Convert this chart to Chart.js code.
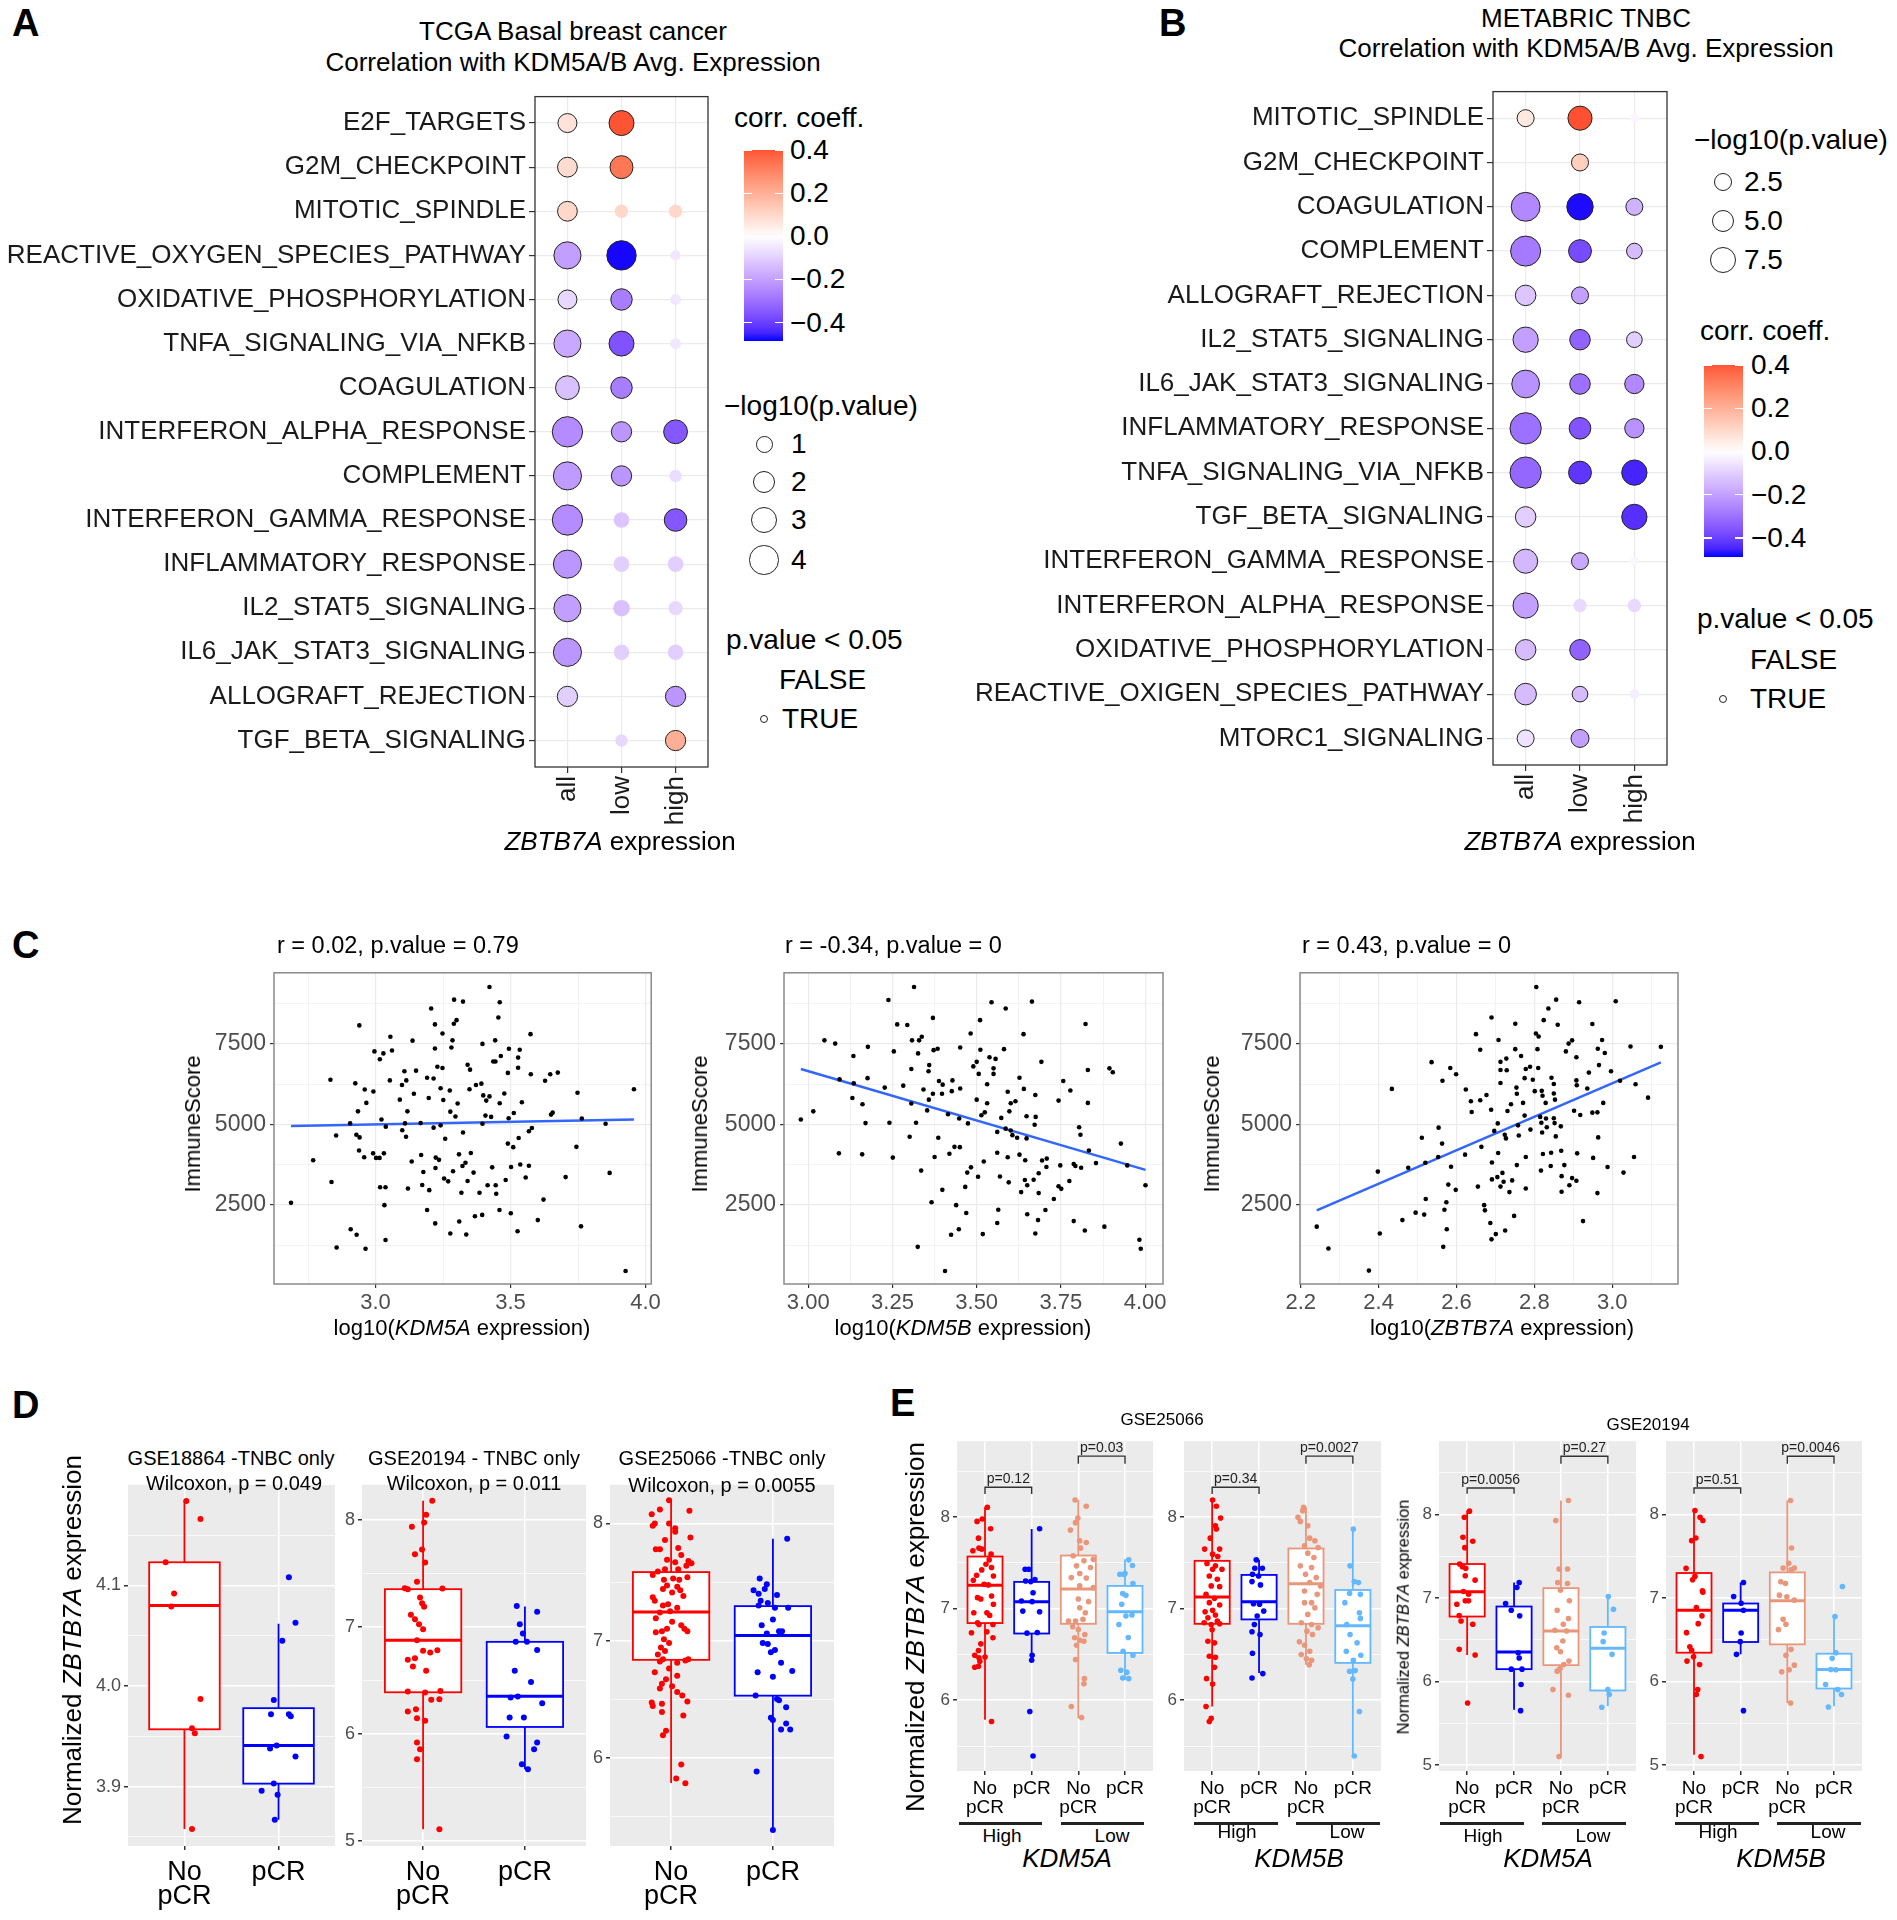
<!DOCTYPE html>
<html><head><meta charset="utf-8">
<script src="https://cdn.jsdelivr.net/npm/chart.js@4.4.1/dist/chart.umd.min.js"></script>
<style>
html,body{margin:0;padding:0;background:#fff;}
body{position:relative;width:1897px;height:1920px;overflow:hidden;font-family:"Liberation Sans",Arial,sans-serif;color:#000;}
canvas{position:absolute;}
.t{position:absolute;white-space:nowrap;line-height:1;}
</style></head><body>
<script>
// ---------- panel A / B : hallmark correlation dot plots ----------
const colsAB = ['all', 'low', 'high'];

const rowsA = ['E2F_TARGETS','G2M_CHECKPOINT','MITOTIC_SPINDLE','REACTIVE_OXYGEN_SPECIES_PATHWAY','OXIDATIVE_PHOSPHORYLATION','TNFA_SIGNALING_VIA_NFKB','COAGULATION','INTERFERON_ALPHA_RESPONSE','COMPLEMENT','INTERFERON_GAMMA_RESPONSE','INFLAMMATORY_RESPONSE','IL2_STAT5_SIGNALING','IL6_JAK_STAT3_SIGNALING','ALLOGRAFT_REJECTION','TGF_BETA_SIGNALING'];
const corrA_all  = [0.07, 0.09, 0.10, -0.20, -0.08, -0.18, -0.13, -0.24, -0.21, -0.24, -0.22, -0.20, -0.22, -0.10, null];
const logpA_all  = [1.35, 1.5, 1.5, 3.3, 1.35, 3.3, 2.4, 4.3, 3.6, 4.3, 3.6, 3.3, 3.6, 1.6, null];
const corrA_low  = [0.40, 0.33, 0.10, -0.48, -0.27, -0.36, -0.27, -0.22, -0.22, -0.12, -0.10, -0.13, -0.10, null, -0.08];
const logpA_low  = [2.7, 2.2, 0.5, 4.0, 1.85, 2.7, 1.85, 1.6, 1.6, 0.8, 0.8, 0.95, 0.8, null, 0.4];
const corrA_high = [null, null, 0.10, -0.05, -0.05, -0.05, null, -0.35, -0.07, -0.35, -0.10, -0.08, -0.10, -0.22, 0.20];
const logpA_high = [null, null, 0.5, 0.2, 0.25, 0.25, null, 2.4, 0.4, 2.1, 0.8, 0.6, 0.8, 1.6, 1.6];

const rowsB = ['MITOTIC_SPINDLE','G2M_CHECKPOINT','COAGULATION','COMPLEMENT','ALLOGRAFT_REJECTION','IL2_STAT5_SIGNALING','IL6_JAK_STAT3_SIGNALING','INFLAMMATORY_RESPONSE','TNFA_SIGNALING_VIA_NFKB','TGF_BETA_SIGNALING','INTERFERON_GAMMA_RESPONSE','INTERFERON_ALPHA_RESPONSE','OXIDATIVE_PHOSPHORYLATION','REACTIVE_OXIGEN_SPECIES_PATHWAY','MTORC1_SIGNALING'];
const corrB_all  = [0.06, null, -0.25, -0.28, -0.12, -0.20, -0.23, -0.30, -0.32, -0.10, -0.15, -0.20, -0.14, -0.14, -0.06];
const logpB_all  = [2.1, null, 9.3, 10.3, 3.7, 6.6, 8.4, 11.4, 11.4, 3.7, 5.8, 6.6, 3.7, 4.3, 2.1];
const corrB_low  = [0.41, 0.12, -0.48, -0.38, -0.20, -0.33, -0.30, -0.36, -0.42, null, -0.18, -0.08, -0.33, -0.14, -0.20];
const logpB_low  = [5.8, 2.1, 7.4, 5.0, 2.1, 3.7, 3.7, 4.3, 5.0, null, 2.1, 0.9, 3.7, 1.6, 2.5];
const corrB_high = [-0.02, null, -0.16, -0.14, null, -0.10, -0.25, -0.23, -0.45, -0.43, -0.02, -0.08, null, -0.04, null];
const logpB_high = [0.1, null, 2.1, 1.6, null, 1.6, 3.1, 3.1, 6.6, 6.6, 0.05, 0.9, null, 0.2, null];

const sizeKeysA = [1, 2, 3, 4];
const sizeKeysB = [2.5, 5.0, 7.5];
const corrTicks = [0.4, 0.2, 0.0, -0.2, -0.4];

// ---------- panel C : ImmuneScore scatters ----------
const scatKDM5A = [[3.422,9271],[3.291,8876],[3.324,8815],[3.460,8795],[3.206,8603],[3.455,8319],[2.940,8076],[3.220,8107],[3.290,8127],[3.300,8238],[3.248,7823],[3.055,7722],[3.137,7601],[3.285,7611],[3.396,7500],[3.443,7611],[3.574,7803],[2.996,7267],[3.029,7206],[3.016,7024],[3.061,7297],[3.220,7358],[3.281,7388],[3.494,7348],[3.534,7318],[3.528,7075],[3.464,7125],[3.436,6953],[3.444,6953],[3.341,6852],[3.350,6700],[3.229,6791],[3.248,6751],[3.528,6761],[3.490,6599],[3.575,6558],[3.647,6558],[3.675,6609],[3.628,6356],[2.833,6386],[3.107,6650],[3.150,6670],[3.114,6366],[3.053,6366],[2.925,6275],[3.191,6447],[3.215,6427],[3.098,6224],[3.372,6224],[3.392,6265],[2.960,6083],[2.992,6022],[3.241,6123],[3.275,6052],[3.348,6093],[3.477,5961],[3.142,5951],[3.090,5769],[3.197,5820],[3.251,5759],[3.399,5901],[3.422,5870],[3.410,5739],[3.460,5658],[3.542,5688],[3.748,5982],[3.957,6093],[2.966,5668],[3.304,5648],[2.935,5405],[3.118,5405],[3.277,5395],[3.296,5243],[3.407,5273],[3.428,5233],[3.512,5354],[3.493,5192],[3.650,5304],[3.656,5364],[3.764,5182],[3.022,5152],[2.906,5030],[3.109,5030],[3.167,5040],[3.396,5020],[3.852,5020],[3.038,4929],[3.241,4970],[3.215,4899],[3.099,4818],[3.579,4889],[3.568,4787],[2.854,4656],[2.929,4676],[2.941,4595],[3.113,4615],[3.258,4555],[3.324,4747],[3.530,4575],[3.490,4403],[3.510,4292],[3.744,4302],[2.769,3887],[2.939,4190],[2.958,3978],[2.991,4099],[3.002,3958],[3.015,3958],[3.031,4099],[3.134,3846],[3.169,4049],[3.177,3522],[3.223,3968],[3.235,3897],[3.309,4069],[3.353,4109],[3.333,3806],[3.322,3705],[3.222,3644],[3.287,3543],[3.363,3502],[3.432,3664],[3.502,3674],[3.536,3755],[3.568,3715],[3.556,3350],[3.482,3270],[3.704,3361],[3.867,3492],[3.254,3320],[3.269,3229],[3.341,3239],[2.837,3209],[3.017,3047],[3.037,3047],[3.120,3006],[3.173,3118],[3.199,2956],[3.318,2875],[3.385,2875],[3.415,3108],[3.445,3108],[3.447,2844],[2.687,2561],[3.033,2490],[3.191,2338],[3.459,2338],[3.395,2187],[3.368,2146],[3.501,2237],[3.622,2662],[3.601,2025],[3.310,1984],[3.221,1923],[2.908,1741],[2.930,1569],[3.277,1610],[3.336,1579],[3.526,1681],[3.761,1832],[2.856,1175],[2.963,1134],[3.037,1407],[3.926,446]];
const fitKDM5A = [[2.687,4950],[3.957,5150]];

const scatKDM5B = [[3.314,9271],[3.238,8866],[3.544,8795],[3.664,8815],[3.586,8603],[3.370,8309],[3.264,8107],[3.294,8087],[3.510,8238],[3.823,8117],[3.482,7823],[3.639,7803],[3.048,7611],[3.080,7510],[3.308,7611],[3.329,7611],[3.337,7722],[3.177,7409],[3.451,7388],[3.511,7318],[3.581,7338],[3.254,7267],[3.326,7206],[3.372,7307],[3.384,7348],[3.134,7125],[3.538,7085],[3.556,7034],[3.500,6943],[3.490,6801],[3.306,6720],[3.359,6842],[3.357,6650],[3.506,6569],[3.550,6741],[3.550,6569],[3.692,6943],[3.894,6741],[3.904,6619],[3.830,6690],[3.093,6397],[3.135,6275],[3.176,6437],[3.227,6143],[3.282,6204],[3.388,6346],[3.399,6235],[3.428,6366],[3.426,6032],[3.451,6113],[3.531,6245],[3.627,6447],[3.640,6103],[3.757,6346],[3.778,6052],[3.342,6083],[3.370,5951],[3.397,5951],[3.592,6012],[3.674,5911],[3.131,5820],[3.161,5627],[3.306,5648],[3.358,5769],[3.353,5435],[3.500,5769],[3.531,5658],[3.601,5658],[3.615,5719],[3.743,5739],[3.830,5668],[3.597,5405],[3.524,5374],[3.514,5283],[3.015,5405],[3.415,5314],[3.448,5182],[3.573,5202],[3.648,5253],[3.675,5233],[2.978,5152],[3.170,5040],[3.241,5051],[3.320,5051],[3.474,5030],[3.672,4990],[3.586,4868],[3.561,4767],[3.601,4808],[3.606,4666],[3.620,4585],[3.648,4565],[3.804,4909],[3.808,4676],[3.301,4615],[3.386,4585],[3.928,4403],[3.434,4302],[3.450,4292],[3.091,4099],[3.160,4069],[3.251,3968],[3.375,3988],[3.419,4089],[3.561,4120],[3.592,3978],[3.627,4059],[3.644,3887],[3.833,4190],[3.521,3846],[3.694,3877],[3.708,3937],[3.707,3674],[3.748,3725],[3.788,3765],[3.793,3705],[3.810,3654],[3.854,3796],[3.947,3725],[3.335,3563],[3.483,3664],[3.472,3502],[3.504,3371],[3.569,3381],[3.595,3199],[3.643,3270],[3.669,3280],[3.650,3108],[3.684,3482],[3.743,3077],[3.751,2996],[3.775,3239],[3.466,3057],[3.632,2895],[3.684,2865],[3.398,2966],[3.729,2683],[4.001,3108],[3.366,2581],[3.439,2490],[3.469,2247],[3.564,2349],[3.650,2207],[3.704,2338],[3.682,2025],[3.561,1934],[3.788,1994],[3.821,1701],[3.879,1822],[3.424,1569],[3.447,1741],[3.518,1590],[3.674,1610],[3.325,1195],[3.983,1417],[3.987,1134],[3.406,446]];
const fitKDM5B = [[2.978,6720],[4.001,3585]];

const scatZBTB7A = [[2.805,9271],[2.856,8876],[2.915,8795],[3.009,8825],[2.836,8603],[2.690,8319],[2.824,8238],[2.751,8127],[2.860,8097],[2.949,8117],[2.650,7803],[2.804,7823],[2.811,7732],[2.708,7621],[2.897,7611],[2.888,7510],[2.974,7621],[3.047,7419],[3.125,7409],[2.661,7318],[2.751,7338],[2.808,7338],[2.881,7267],[2.963,7348],[2.981,7216],[2.766,7125],[2.728,7044],[2.908,7085],[2.536,6933],[2.713,6943],[2.966,6842],[2.584,6751],[2.713,6690],[2.729,6680],[2.778,6720],[2.789,6791],[2.810,6751],[2.940,6609],[2.997,6650],[2.599,6558],[2.775,6437],[2.796,6386],[2.844,6447],[2.850,6255],[2.713,6285],[2.908,6366],[2.909,6214],[3.020,6356],[3.060,6245],[2.564,6356],[2.434,6103],[2.624,6083],[2.754,6143],[2.801,6032],[2.819,6042],[2.936,6113],[3.092,5830],[2.677,5911],[2.755,5951],[2.821,5891],[2.850,5961],[2.637,5719],[2.661,5749],[2.771,5668],[2.829,5668],[2.853,5769],[2.639,5385],[2.689,5455],[2.731,5415],[2.740,5627],[2.977,5668],[2.902,5425],[2.918,5293],[2.949,5364],[2.962,5374],[2.775,5273],[2.815,5233],[2.830,5182],[2.850,5192],[2.818,5051],[2.832,4909],[2.852,5040],[2.868,4939],[2.706,5030],[2.758,4970],[2.790,4838],[2.697,4798],[2.554,4899],[2.820,4747],[2.724,4676],[2.727,4565],[2.760,4656],[2.855,4626],[2.964,4595],[2.511,4585],[2.563,4403],[2.664,4302],[2.622,4059],[2.553,3988],[2.707,4109],[2.778,3988],[2.822,4079],[2.843,4120],[2.869,4180],[2.910,4099],[2.951,3958],[3.056,3988],[2.520,3806],[2.476,3654],[2.398,3533],[2.586,3684],[2.691,3816],[2.755,3735],[2.817,3563],[2.842,3705],[2.877,3735],[2.870,3391],[2.988,3674],[3.029,3502],[2.718,3492],[2.691,3290],[2.705,3361],[2.721,3219],[2.713,3067],[2.743,3259],[2.736,2895],[2.778,3006],[2.870,2905],[2.897,3330],[2.890,3108],[2.908,3249],[2.962,2865],[2.579,3128],[2.598,2966],[2.655,3067],[2.521,2682],[2.574,2581],[2.569,2349],[2.671,2490],[2.673,2328],[2.748,2156],[2.495,2257],[2.517,2197],[2.461,2025],[2.575,1741],[2.687,1934],[2.701,1590],[2.725,1701],[2.690,1427],[2.925,1994],[2.241,1822],[2.403,1610],[2.271,1144],[2.566,1195],[2.375,456]];
const fitZBTB7A = [[2.241,2330],[3.125,6925]];

const immuneTicks = [2500, 5000, 7500];
const immuneMinor = [1250, 3750, 6250, 8750];

// ---------- panel D : ZBTB7A in pCR vs no pCR (TNBC) ----------
const groupsD = [['No','pCR'], 'pCR'];
// box stats: [lower whisker, q1, median, q3, upper whisker]
const boxGSE18864 = [[3.858,3.957,4.080,4.123,4.185],[3.867,3.903,3.941,3.978,4.062]];
const boxGSE20194 = [[5.109,6.389,6.875,7.352,8.178],[5.670,6.065,6.352,6.860,7.190]];
const boxGSE25066 = [[5.782,6.835,7.243,7.585,8.207],[5.388,6.529,7.043,7.294,7.870]];
// jittered points: [horizontal jitter, value]
const ptsGSE18864_no = [[0.02,4.184],[0.17,4.166],[-0.2,4.123],[-0.11,4.092],[-0.14,4.079],[0.17,3.987],[0.08,3.958],[0.11,3.953],[0.08,3.858]];
const ptsGSE18864_pcr = [[0.11,4.108],[0.18,4.063],[0.04,4.045],[-0.05,3.986],[-0.08,3.972],[0.11,3.972],[0.13,3.970],[-0.02,3.941],[-0.09,3.938],[0.18,3.930],[-0.05,3.903],[-0.18,3.896],[-0.01,3.892],[-0.04,3.867]];
const ptsGSE20194_no = [[0.09,8.178],[0.03,8.047],[0.01,7.975],[-0.11,7.935],[-0.01,7.723],[-0.08,7.679],[0.02,7.601],[-0.06,7.421],[-0.18,7.361],[-0.15,7.352],[0.19,7.358],[-0.03,7.274],[-0.01,7.221],[0.01,7.187],[-0.12,7.112],[-0.08,7.072],[-0.04,7.025],[0,6.978],[-0.06,6.875],[0,6.776],[0.07,6.760],[0.14,6.782],[-0.15,6.692],[-0.08,6.707],[-0.1,6.629],[0.03,6.589],[-0.15,6.396],[0.02,6.386],[0.08,6.318],[0.16,6.324],[0.17,6.402],[-0.15,6.209],[-0.07,6.231],[-0.06,6.146],[0.02,6.122],[-0.06,5.919],[-0.03,5.857],[-0.06,5.763],[0.16,5.109]];
const ptsGSE20194_pcr = [[-0.08,7.196],[0.12,7.140],[-0.05,7.025],[-0.02,6.938],[-0.09,6.860],[0.02,6.860],[0.12,6.785],[-0.1,6.589],[0.06,6.486],[-0.14,6.340],[-0.07,6.349],[0.17,6.287],[-0.15,6.153],[-0.01,6.153],[-0.18,5.975],[0.12,5.919],[0.09,5.857],[-0.03,5.717],[0.03,5.670]];
const ptsGSE25066_no = [[-0.02,8.20],[-0.11,8.12],[0.18,8.11],[-0.19,8.08],[-0.16,8.00],[-0.18,7.98],[-0.02,8.00],[0.04,7.96],[0.04,7.93],[-0.06,7.86],[0.19,7.88],[-0.15,7.78],[-0.11,7.78],[0.07,7.79],[0.10,7.73],[-0.04,7.69],[0.04,7.67],[0.17,7.68],[0.2,7.66],[0.15,7.64],[-0.06,7.61],[0.07,7.61],[-0.18,7.56],[-0.13,7.59],[0.16,7.54],[0.02,7.53],[-0.07,7.52],[0.08,7.52],[-0.04,7.47],[0.06,7.46],[0.09,7.43],[-0.08,7.44],[0.01,7.41],[-0.18,7.37],[0.12,7.38],[-0.16,7.34],[-0.03,7.31],[-0.08,7.30],[0.06,7.28],[-0.11,7.24],[-0.01,7.25],[-0.15,7.19],[0.01,7.16],[0.1,7.13],[-0.04,7.10],[-0.09,7.08],[0.16,7.08],[0.13,7.10],[-0.15,7.07],[-0.07,7.01],[-0.02,6.98],[-0.1,6.94],[-0.06,6.91],[-0.13,6.88],[-0.08,6.84],[-0.11,6.82],[0.14,6.83],[0.06,6.81],[0.17,6.84],[-0.02,6.76],[-0.16,6.73],[0.06,6.70],[-0.05,6.67],[-0.09,6.63],[0.01,6.61],[-0.11,6.59],[0.06,6.56],[0.11,6.53],[0.16,6.48],[-0.19,6.47],[-0.18,6.44],[-0.09,6.46],[-0.09,6.39],[0.12,6.36],[-0.05,6.23],[-0.08,6.19],[0.1,5.94],[0.05,5.82],[0.14,5.78]];
const ptsGSE25066_pcr = [[0.14,7.87],[-0.13,7.53],[-0.06,7.48],[-0.08,7.44],[-0.19,7.43],[-0.14,7.40],[0.04,7.39],[-0.12,7.34],[-0.05,7.32],[-0.14,7.30],[0.02,7.28],[0.15,7.28],[0,7.18],[-0.11,7.13],[0.06,7.08],[0.09,7.08],[-0.06,7.06],[-0.1,6.98],[-0.05,6.97],[-0.02,6.90],[0.02,6.92],[0.08,6.81],[0.19,6.74],[-0.15,6.73],[0,6.69],[-0.17,6.53],[0.04,6.50],[0.06,6.49],[0.13,6.43],[-0.02,6.34],[0,6.32],[0.13,6.29],[0.08,6.24],[0.17,6.24],[-0.16,5.88],[0,5.38]];

// ---------- panel E : split by KDM5A / KDM5B level ----------
const groupsE = [['No','pCR'], 'pCR', ['No','pCR'], 'pCR'];
const boxE_25066_A = [[5.786,6.843,7.256,7.570,8.108],[6.437,6.729,7.077,7.293,7.870],[5.804,6.835,7.216,7.581,8.188],[6.225,6.517,6.967,7.249,7.541]];
const boxE_25066_B = [[5.932,6.835,7.128,7.523,8.188],[6.298,6.883,7.077,7.369,7.534],[6.389,6.835,7.274,7.658,8.108],[5.391,6.408,6.814,7.205,7.870]];
const boxE_20194_A = [[6.319,6.780,7.076,7.409,8.050],[5.665,6.150,6.355,6.900,7.188],[5.104,6.198,6.607,7.120,8.170],[5.705,5.894,6.399,6.655,7.020]];
const boxE_20194_B = [[5.124,6.347,6.856,7.301,8.050],[6.327,6.475,6.856,6.936,7.188],[5.745,6.447,6.968,7.309,8.170],[5.705,5.918,6.146,6.335,6.780]];

const ptsE_25066_A = [
  [[0.05,8.108],[-0.17,7.954],[-0.06,7.980],[0.12,7.874],[-0.14,7.771],[-0.13,7.662],[-0.07,7.651],[-0.26,7.633],[0.13,7.596],[0.09,7.534],[0.02,7.486],[0.14,7.450],[-0.07,7.424],[-0.18,7.366],[0.18,7.358],[-0.25,7.311],[0.07,7.260],[-0.02,7.267],[-0.16,7.121],[0.14,7.139],[-0.09,7.106],[0.18,7.048],[-0.24,6.956],[0.04,6.956],[0.10,6.927],[-0.16,6.846],[-0.13,6.828],[0.17,6.828],[0.04,6.748],[-0.29,6.737],[0.17,6.682],[-0.09,6.616],[-0.14,6.543],[-0.22,6.492],[-0.13,6.463],[0,6.473],[-0.11,6.426],[-0.22,6.360],[-0.14,6.371],[0.14,5.768]],
  [[0.17,7.874],[-0.14,7.431],[-0.06,7.431],[0.07,7.318],[-0.13,7.303],[-0.02,7.296],[0.03,7.175],[-0.22,7.084],[0.01,7.077],[0.17,6.967],[-0.19,6.974],[-0.1,6.733],[0.12,6.740],[0.01,6.492],[0,6.437],[-0.04,5.877],[0.03,5.391]],
  [[-0.07,8.188],[0.17,8.119],[-0.01,7.991],[-0.06,7.940],[-0.17,7.859],[0.03,7.742],[0.17,7.724],[0.05,7.662],[-0.11,7.578],[0.12,7.523],[0.32,7.541],[-0.04,7.468],[0.26,7.450],[0.03,7.384],[-0.15,7.340],[0.17,7.336],[0.03,7.249],[0.32,7.230],[0,7.106],[0.22,7.077],[0.03,7.011],[0.15,6.956],[-0.06,6.865],[0.1,6.883],[-0.21,6.865],[-0.12,6.803],[0,6.773],[0.14,6.718],[-0.08,6.682],[0.03,6.656],[0.12,6.645],[-0.04,6.601],[-0.06,6.444],[0.13,6.236],[0.12,6.181],[-0.15,5.932],[0.07,5.812]],
  [[0.08,7.534],[0.16,7.472],[0,7.388],[-0.11,7.377],[-0.02,7.373],[0.17,7.274],[-0.05,7.165],[0.02,7.146],[-0.07,7.048],[0.15,6.931],[0.02,6.920],[-0.13,6.828],[0.07,6.686],[-0.04,6.536],[0.17,6.492],[-0.09,6.327],[0.04,6.305],[-0.05,6.243],[0.08,6.236]]
];
const ptsE_25066_B = [
  [[0.01,8.188],[0.09,8.119],[0.18,7.991],[0.07,7.907],[0.09,7.870],[-0.04,7.771],[-0.16,7.651],[0.16,7.651],[0.01,7.596],[0.12,7.570],[-0.11,7.494],[0.07,7.468],[0.01,7.431],[0.21,7.431],[-0.06,7.358],[0.11,7.322],[-0.02,7.249],[0.16,7.241],[-0.13,7.157],[0.05,7.113],[-0.06,7.066],[0.16,7.040],[0.01,6.982],[-0.15,6.967],[0.07,6.931],[-0.09,6.901],[0.11,6.865],[-0.17,6.846],[-0.02,6.828],[0.16,6.835],[0,6.770],[-0.09,6.645],[0.05,6.627],[-0.06,6.481],[0.07,6.470],[0.05,6.360],[-0.12,6.236],[0.01,6.177],[-0.13,5.932],[-0.02,5.804],[-0.06,5.768]],
  [[-0.06,7.534],[-0.09,7.442],[0.07,7.442],[-0.14,7.377],[-0.01,7.358],[-0.15,7.296],[0.03,7.260],[-0.12,7.055],[0.01,7.048],[0.1,6.974],[-0.04,6.920],[-0.1,6.828],[-0.15,6.748],[0.02,6.718],[-0.14,6.514],[-0.15,6.243],[0.08,6.291]],
  [[-0.05,8.108],[-0.07,8.071],[-0.17,7.998],[-0.12,7.954],[0.04,7.907],[0.08,7.771],[0.19,7.742],[-0.03,7.687],[0.26,7.669],[0.04,7.607],[0.17,7.559],[-0.12,7.468],[0.12,7.450],[-0.01,7.377],[0.22,7.340],[0.08,7.285],[0.31,7.249],[-0.03,7.194],[0.24,7.157],[0.12,7.066],[-0.03,7.066],[0.19,7.011],[0.04,6.938],[-0.1,6.846],[0.12,6.828],[0.26,6.792],[0.02,6.755],[0.14,6.718],[-0.14,6.638],[-0.03,6.601],[0.08,6.536],[-0.1,6.499],[0.01,6.452],[0.12,6.437],[0.07,6.389]],
  [[0.01,7.870],[-0.06,7.468],[0.03,7.296],[0.12,7.285],[-0.07,7.168],[0.16,7.157],[-0.17,7.066],[0.14,6.956],[0.16,6.894],[-0.13,6.828],[-0.06,6.718],[0.09,6.627],[-0.14,6.536],[0.17,6.492],[0.01,6.437],[-0.07,6.316],[0.05,6.324],[0,6.232],[0.14,5.877],[0.03,5.391]]
];
const ptsE_20194_A = [
  [[0.05,8.042],[-0.06,7.970],[-0.09,7.729],[0.12,7.681],[-0.05,7.605],[-0.16,7.409],[-0.1,7.377],[-0.03,7.357],[-0.04,7.269],[0.17,7.216],[-0.08,7.080],[0.03,7.048],[-0.04,6.968],[-0.22,6.928],[0.03,6.968],[-0.17,6.792],[-0.13,6.727],[0.12,6.687],[-0.17,6.387],[0.17,6.319],[0.01,5.745]],
  [[0.11,7.188],[0.06,7.128],[-0.18,6.936],[-0.06,6.856],[0.12,6.788],[0.09,6.347],[0.11,6.283],[-0.06,6.150],[0.17,6.150],[0.15,5.966],[0.14,5.653]],
  [[0.16,8.170],[-0.11,7.930],[-0.04,7.349],[0.14,7.349],[-0.07,7.188],[0.14,7.176],[-0.01,7.096],[0.18,6.968],[-0.08,6.856],[0.16,6.756],[0.05,6.687],[-0.13,6.615],[0.12,6.607],[0.04,6.487],[-0.09,6.407],[-0.01,6.359],[0.17,6.246],[0.06,6.206],[-0.02,6.158],[-0.08,6.126],[-0.17,5.906],[0.16,5.838],[-0.04,5.104]],
  [[0.01,7.020],[0.12,6.868],[-0.08,6.583],[-0.1,6.479],[0.09,6.327],[0,5.906],[0.03,5.846],[-0.13,5.693]]
];
const ptsE_20194_B = [
  [[0.02,8.050],[0.13,7.970],[0.19,7.930],[-0.05,7.689],[0.04,7.721],[-0.17,7.357],[0.02,7.261],[-0.03,7.220],[0.18,7.088],[0.19,7.072],[0.05,6.888],[0.17,6.788],[0.09,6.695],[-0.16,6.587],[-0.09,6.419],[-0.05,6.375],[-0.01,6.299],[-0.15,6.246],[0.12,6.206],[0.08,5.906],[0.05,5.846],[0.15,5.104]],
  [[0.06,7.188],[-0.15,7.020],[0.01,6.940],[0.06,6.856],[0.01,6.583],[-0.01,6.479],[-0.09,6.327],[0.06,5.653]],
  [[0.07,8.170],[0.09,7.601],[0.03,7.417],[-0.09,7.361],[0.15,7.361],[0.08,7.341],[-0.14,7.196],[-0.04,7.176],[-0.17,7.036],[-0.01,7.016],[0.15,6.976],[-0.09,6.748],[-0.03,6.687],[-0.19,6.623],[0.08,6.387],[-0.03,6.315],[0.15,6.198],[0.04,6.142],[-0.12,6.118],[0.07,5.745]],
  [[0.18,7.140],[0.02,6.780],[0.04,6.347],[-0.04,6.279],[-0.07,6.146],[0.04,6.142],[-0.18,5.966],[0.08,5.906],[0.16,5.846],[-0.12,5.697]]
];
const bracketsE_25066_A = [{from:0, to:1, y:8.327, end:8.254, label:'p=0.12'}, {from:2, to:3, y:8.667, end:8.583, label:'p=0.03'}];
const bracketsE_25066_B = [{from:0, to:1, y:8.327, end:8.254, label:'p=0.34'}, {from:2, to:3, y:8.667, end:8.583, label:'p=0.0027'}];
const bracketsE_20194_A = [{from:0, to:1, y:8.32, end:8.25, label:'p=0.0056'}, {from:2, to:3, y:8.70, end:8.61, label:'p=0.27'}];
const bracketsE_20194_B = [{from:0, to:1, y:8.32, end:8.25, label:'p=0.51'}, {from:2, to:3, y:8.70, end:8.61, label:'p=0.0046'}];

// ================= drawing =================
const FONT = '"Liberation Sans", Arial, Helvetica, sans-serif';
Chart.defaults.font.family = FONT;
Chart.defaults.animation = false;
Chart.defaults.devicePixelRatio = 1;
Chart.defaults.plugins.legend.display = false;
Chart.defaults.plugins.tooltip.enabled = false;

const PAD = 10;
function place(area, yW, xH) {
  const c = document.createElement('canvas');
  const w = yW + (area.r - area.l) + PAD, h = PAD + (area.b - area.t) + xH;
  c.width = w; c.height = h;
  c.style.left = (area.l - yW) + 'px'; c.style.top = (area.t - PAD) + 'px';
  c.style.width = w + 'px'; c.style.height = h + 'px';
  document.body.appendChild(c);
  return c;
}

function T(html, x, y, size, align, o) {
  o = o || {};
  const d = document.createElement('div');
  d.className = 't';
  d.innerHTML = html;
  d.style.left = x + 'px'; d.style.top = y + 'px'; d.style.fontSize = size + 'px';
  if (o.bold) d.style.fontWeight = 'bold';
  if (o.color) d.style.color = o.color;
  const tx = align === 'l' ? '0' : align === 'r' ? '-100%' : '-50%';
  d.style.transform = 'translate(' + tx + ',-50%)' + (o.rot ? ' rotate(-90deg)' : '');
  document.body.appendChild(d);
}
function box(x, y, w, h, css) {
  const d = document.createElement('div');
  d.style.cssText = 'position:absolute;left:' + x + 'px;top:' + y + 'px;width:' + w + 'px;height:' + h + 'px;' + css;
  document.body.appendChild(d);
}
function ring(cx, cy, r, css) {
  box(cx - r, cy - r, 2 * r, 2 * r, 'box-sizing:border-box;border-radius:50%;' + css);
}

// colour scale (gradient2 in CIELAB: blue - white - red)
function lin(c) { c /= 255; return c <= 0.04045 ? c / 12.92 : Math.pow((c + 0.055) / 1.055, 2.4); }
function unlin(c) { c = c <= 0.0031308 ? 12.92 * c : 1.055 * Math.pow(c, 1 / 2.4) - 0.055; return Math.max(0, Math.min(255, Math.round(c * 255))); }
function toLab(rgb) {
  const [r, g, b] = rgb.map(lin);
  const X = (0.4124 * r + 0.3576 * g + 0.1805 * b) / 0.95047, Y = 0.2126 * r + 0.7152 * g + 0.0722 * b, Z = (0.0193 * r + 0.1192 * g + 0.9505 * b) / 1.08883;
  const f = t => t > 0.008856 ? Math.cbrt(t) : 7.787 * t + 16 / 116;
  return [116 * f(Y) - 16, 500 * (f(X) - f(Y)), 200 * (f(Y) - f(Z))];
}
function fromLab([L, a, b]) {
  const fy = (L + 16) / 116, fx = fy + a / 500, fz = fy - b / 200;
  const inv = t => t * t * t > 0.008856 ? t * t * t : (t - 16 / 116) / 7.787;
  const X = inv(fx) * 0.95047, Y = inv(fy), Z = inv(fz) * 1.08883;
  const r = 3.2406 * X - 1.5372 * Y - 0.4986 * Z, g = -0.9689 * X + 1.8758 * Y + 0.0415 * Z, bb = 0.0557 * X - 0.2040 * Y + 1.0570 * Z;
  return 'rgb(' + unlin(r) + ',' + unlin(g) + ',' + unlin(bb) + ')';
}
const LAB_W = toLab([255, 255, 255]), LAB_B = toLab([0, 0, 255]), LAB_R = toLab([255, 0, 0]);
function corrColor(v, lim) {
  const t = Math.max(-1, Math.min(1, v / lim)), end = t < 0 ? LAB_B : LAB_R, k = Math.abs(t);
  return fromLab(LAB_W.map((w, i) => w + (end[i] - w) * k));
}

const frame = (color, w) => ({ id: 'frame', afterDatasetsDraw(ch) {
  const a = ch.chartArea, g = ch.ctx; g.save(); g.strokeStyle = color; g.lineWidth = w;
  g.strokeRect(a.left, a.top, a.right - a.left, a.bottom - a.top); g.restore(); } });
const greyBg = { id: 'greyBg', beforeDraw(ch) {
  const a = ch.chartArea, g = ch.ctx; g.save(); g.fillStyle = '#EBEBEB';
  g.fillRect(a.left, a.top, a.right - a.left, a.bottom - a.top); g.restore(); } };

// ---------- dot plots ----------
const SIG = -Math.log10(0.05);
const LBL = 26;
function dotPlot(area, yW, xH, rows, cols, sizeR, lim) {
  const c = place(area, yW, xH);
  const datasets = cols.map((col, j) => ({
    data: col.corr.map((v, i) => v == null ? null : { x: j, y: i, c: v, p: col.logp[i] }).filter(d => d),
    pointRadius: ctx => ctx.raw ? sizeR(ctx.raw.p) : 0,
    pointBackgroundColor: ctx => ctx.raw ? corrColor(ctx.raw.c, lim) : '#fff',
    pointBorderColor: ctx => ctx.raw && ctx.raw.p > SIG ? '#222' : 'rgba(0,0,0,0)',
    pointBorderWidth: 1
  }));
  new Chart(c, {
    type: 'scatter', data: { datasets },
    options: {
      responsive: false, layout: { padding: { left: 0, top: PAD, right: PAD, bottom: 0 }, autoPadding: false },
      scales: {
        x: { type: 'linear', min: -0.6, max: 2.6,
          afterBuildTicks: s => { s.ticks = [0, 1, 2].map(v => ({ value: v })); },
          afterFit: s => { s.height = xH; },
          ticks: { callback: v => colsAB[v], minRotation: 90, maxRotation: 90, autoSkip: false, padding: 3, color: '#1a1a1a', font: { size: 26 } },
          grid: { color: '#EBEBEB', lineWidth: 1.2, tickColor: '#333', tickLength: 6 }, border: { display: false } },
        y: { type: 'linear', reverse: true, min: -0.6, max: rows.length - 0.4,
          afterBuildTicks: s => { s.ticks = rows.map((r, i) => ({ value: i })); },
          afterFit: s => { s.width = yW; },
          ticks: { callback: v => rows[v], autoSkip: false, padding: 3, color: '#1a1a1a', font: { size: LBL } },
          grid: { color: '#EBEBEB', lineWidth: 1.2, tickColor: '#333', tickLength: 6 }, border: { display: false } }
      }
    },
    plugins: [frame('#333', 1.3)]
  });
}
const sizeA = v => 2.3 + 6.2 * Math.sqrt(v);
const sizeB = v => 3.15 + 3.7 * Math.sqrt(v);
const LIM_A = 0.485, LIM_B = 0.488;

dotPlot({ l: 535, t: 88, r: 708, b: 767 }, 535, 100, rowsA,
  [{ corr: corrA_all, logp: logpA_all }, { corr: corrA_low, logp: logpA_low }, { corr: corrA_high, logp: logpA_high }], sizeA, LIM_A);
dotPlot({ l: 1493, t: 83, r: 1667, b: 765 }, 536, 100, rowsB,
  [{ corr: corrB_all, logp: logpB_all }, { corr: corrB_low, logp: logpB_low }, { corr: corrB_high, logp: logpB_high }], sizeB, LIM_B);

const LEG = 28;
function colorbar(x, y, w, h, vmax, vmin, lim, labX) {
  const stops = [];
  for (let k = 0; k <= 24; k++) { const v = vmin + (vmax - vmin) * k / 24; stops.push(corrColor(v, lim) + ' ' + (k / 24 * 100).toFixed(1) + '%'); }
  box(x, y, w, h, 'background:linear-gradient(to top,' + stops.join(',') + ');');
  corrTicks.forEach(t => {
    const ty = y + (vmax - t) / (vmax - vmin) * h;
    box(x, ty - 0.6, w / 5, 1.2, 'background:#fff;');
    box(x + w - w / 5, ty - 0.6, w / 5, 1.2, 'background:#fff;');
    T(t === 0 ? '0.0' : (t < 0 ? '\u2212' : '') + Math.abs(t).toFixed(1), labX, ty, LEG, 'l');
  });
}

// panel A annotations
T('A', 12, 23, 38, 'l', { bold: true });
T('TCGA Basal breast cancer', 573, 31, 26, 'c');
T('Correlation with KDM5A/B Avg. Expression', 573, 62, 26, 'c');
T('<i>ZBTB7A</i> expression', 620, 841, 26, 'c');
T('corr. coeff.', 734, 118, LEG, 'l');
colorbar(744, 150, 39, 191, 0.40, -0.485, LIM_A, 790);
T('\u2212log10(p.value)', 724, 406, LEG, 'l');
[444, 482, 520, 560].forEach((cy, i) => { ring(764, cy, sizeA(sizeKeysA[i]), 'border:1.2px solid #222;'); T(String(sizeKeysA[i]), 791, cy, LEG, 'l'); });
T('p.value &lt; 0.05', 726, 640, LEG, 'l');
T('FALSE', 779, 680, LEG, 'l');
T('TRUE', 782, 719, LEG, 'l');
ring(764, 719, 4, 'border:1.2px solid #222;');

// panel B annotations
T('B', 1159, 23, 38, 'l', { bold: true });
T('METABRIC TNBC', 1586, 18, 26, 'c');
T('Correlation with KDM5A/B Avg. Expression', 1586, 48, 26, 'c');
T('<i>ZBTB7A</i> expression', 1580, 841, 26, 'c');
T('\u2212log10(p.value)', 1694, 140, LEG, 'l');
[182, 221, 260].forEach((cy, i) => { ring(1723, cy, sizeB(sizeKeysB[i]), 'border:1.2px solid #222;'); T(sizeKeysB[i].toFixed(1), 1744, cy, LEG, 'l'); });
T('corr. coeff.', 1700, 331, LEG, 'l');
colorbar(1704, 365, 39, 192, 0.40, -0.488, LIM_B, 1751);
T('p.value &lt; 0.05', 1697, 619, LEG, 'l');
T('FALSE', 1750, 660, LEG, 'l');
T('TRUE', 1750, 699, LEG, 'l');
ring(1723, 699, 4, 'border:1.2px solid #222;');

// ---------- scatters ----------
function scatterPanel(area, pts, fit, xr, xMaj, xMin, digits) {
  const c = place(area, 80, 32);
  const inList = (l, v) => l.some(m => Math.abs(m - v) < 1e-9);
  new Chart(c, {
    type: 'scatter',
    data: { datasets: [
      { data: pts.map(p => ({ x: p[0], y: p[1] })), pointRadius: 2.3, pointBackgroundColor: '#000', pointBorderWidth: 0 },
      { data: fit.map(p => ({ x: p[0], y: p[1] })), showLine: true, borderColor: '#3366FF', borderWidth: 2.5, pointRadius: 0 }
    ] },
    options: {
      responsive: false, layout: { padding: { left: 0, top: PAD, right: PAD, bottom: 0 }, autoPadding: false },
      scales: {
        x: { type: 'linear', min: xr[0], max: xr[1],
          afterBuildTicks: s => { s.ticks = xMaj.concat(xMin).sort((a, b) => a - b).map(v => ({ value: v })); },
          afterFit: s => { s.height = 32; },
          ticks: { callback: v => inList(xMaj, v) ? v.toFixed(digits) : '', autoSkip: false, maxRotation: 0, padding: 2, color: '#4D4D4D', font: { size: 22 } },
          grid: { color: '#EBEBEB', lineWidth: ctx => ctx.tick && inList(xMaj, ctx.tick.value) ? 1.2 : 0.6,
            tickColor: ctx => ctx.tick && inList(xMaj, ctx.tick.value) ? '#333' : 'rgba(0,0,0,0)', tickLength: 4 }, border: { display: false } },
        y: { type: 'linear', min: 40, max: 9710,
          afterBuildTicks: s => { s.ticks = immuneTicks.concat(immuneMinor).sort((a, b) => a - b).map(v => ({ value: v })); },
          afterFit: s => { s.width = 80; },
          ticks: { callback: v => inList(immuneTicks, v) ? String(v) : '', autoSkip: false, padding: 4, color: '#4D4D4D', font: { size: 23 } },
          grid: { color: '#EBEBEB', lineWidth: ctx => ctx.tick && inList(immuneTicks, ctx.tick.value) ? 1.2 : 0.6,
            tickColor: ctx => ctx.tick && inList(immuneTicks, ctx.tick.value) ? '#333' : 'rgba(0,0,0,0)', tickLength: 4 }, border: { display: false } }
      }
    },
    plugins: [frame('#8a8a8a', 1.5)]
  });
}
scatterPanel({ l: 274, t: 965, r: 653, b: 1284 }, scatKDM5A, fitKDM5A, [2.624, 4.021], [3.0, 3.5, 4.0], [2.75, 3.25, 3.75], 1);
scatterPanel({ l: 784, t: 965, r: 1163, b: 1284 }, scatKDM5B, fitKDM5B, [2.928, 4.053], [3.0, 3.25, 3.5, 3.75, 4.0], [3.125, 3.375, 3.625, 3.875], 2);
scatterPanel({ l: 1300, t: 965, r: 1678, b: 1284 }, scatZBTB7A, fitZBTB7A, [2.198, 3.169], [2.2, 2.4, 2.6, 2.8, 3.0], [2.3, 2.5, 2.7, 2.9, 3.1], 1);

T('C', 12, 945, 38, 'l', { bold: true });
T('r = 0.02, p.value = 0.79', 277, 946, 23.5, 'l');
T('r = -0.34, p.value = 0', 785, 946, 23.5, 'l');
T('r = 0.43, p.value = 0', 1302, 946, 23.5, 'l');
[193, 700, 1212].forEach(x => T('ImmuneScore', x, 1124, 22, 'c', { rot: true }));
T('log10(<i>KDM5A</i> expression)', 462, 1328, 22, 'c');
T('log10(<i>KDM5B</i> expression)', 963, 1328, 22, 'c');
T('log10(<i>ZBTB7A</i> expression)', 1502, 1328, 22, 'c');

// ---------- box plots ----------
function boxPlugin(stats, colors, width) {
  return { id: 'boxes', beforeDatasetsDraw(ch) {
    const x = ch.scales.x, y = ch.scales.y, g = ch.ctx;
    stats.forEach((s, i) => {
      const [lo, q1, med, q3, hi] = s.map(v => y.getPixelForValue(v));
      const xl = x.getPixelForValue(i - width / 2), xr = x.getPixelForValue(i + width / 2), xc = x.getPixelForValue(i);
      g.save(); g.strokeStyle = colors[i]; g.lineWidth = 1.8;
      g.beginPath(); g.moveTo(xc, hi); g.lineTo(xc, q3); g.moveTo(xc, q1); g.lineTo(xc, lo); g.stroke();
      g.fillStyle = '#fff'; g.fillRect(xl, q3, xr - xl, q1 - q3); g.strokeRect(xl, q3, xr - xl, q1 - q3);
      g.lineWidth = 3; g.beginPath(); g.moveTo(xl, med); g.lineTo(xr, med); g.stroke();
      g.restore();
    });
  } };
}
function bracketPlugin(brackets) {
  return { id: 'brackets', afterDatasetsDraw(ch) {
    const x = ch.scales.x, y = ch.scales.y, g = ch.ctx;
    g.save(); g.strokeStyle = '#333'; g.lineWidth = 1.4; g.fillStyle = '#222';
    g.font = '14px ' + FONT; g.textAlign = 'center'; g.textBaseline = 'bottom';
    brackets.forEach(b => {
      const x1 = x.getPixelForValue(b.from), x2 = x.getPixelForValue(b.to), y1 = y.getPixelForValue(b.y), y2 = y.getPixelForValue(b.end);
      g.beginPath(); g.moveTo(x1, y2); g.lineTo(x1, y1); g.lineTo(x2, y1); g.lineTo(x2, y2); g.stroke();
      g.fillText(b.label, (x1 + x2) / 2, y1 - 1);
    });
    g.restore();
  } };
}
function boxPanel(area, yW, xH, o) {
  const c = place(area, yW, xH);
  const n = o.stats.length;
  const inList = (l, v) => l.some(m => Math.abs(m - v) < 1e-9);
  const plugins = [greyBg, boxPlugin(o.stats, o.colors, 0.75)];
  if (o.brackets) plugins.push(bracketPlugin(o.brackets));
  new Chart(c, {
    type: 'scatter',
    data: { datasets: o.points.map((pts, gi) => ({
      data: pts.map(p => ({ x: gi + p[0], y: p[1] })), pointRadius: o.ptR, pointBorderWidth: 0, pointBackgroundColor: o.colors[gi] })) },
    options: {
      responsive: false, layout: { padding: { left: 0, top: PAD, right: PAD, bottom: 0 }, autoPadding: false },
      scales: {
        x: { type: 'linear', min: -0.6, max: n - 0.4,
          afterBuildTicks: s => { s.ticks = o.labels.map((l, i) => ({ value: i })); },
          afterFit: s => { s.height = xH; },
          ticks: { callback: v => o.labels[v], autoSkip: false, maxRotation: 0, padding: o.xPad, color: '#000', font: { size: o.xFont, lineHeight: o.xLH } },
          grid: { color: '#fff', lineWidth: 1.5, tickColor: '#333', tickLength: 4 }, border: { display: false } },
        y: { type: 'linear', min: o.yr[0], max: o.yr[1],
          afterBuildTicks: s => { s.ticks = o.yMaj.concat(o.yMin).sort((a, b) => a - b).map(v => ({ value: v })); },
          afterFit: s => { s.width = yW; },
          ticks: { callback: v => inList(o.yMaj, v) ? v.toFixed(o.yDig) : '', autoSkip: false, padding: 3, color: '#4D4D4D', font: { size: o.yFont } },
          grid: { color: '#fff', lineWidth: ctx => ctx.tick && inList(o.yMaj, ctx.tick.value) ? 1.5 : 0.7,
            tickColor: ctx => ctx.tick && inList(o.yMaj, ctx.tick.value) ? '#333' : 'rgba(0,0,0,0)', tickLength: 4 }, border: { display: false } }
      }
    },
    plugins
  });
}

const RED = '#FF0000', BLUE = '#0000FF', SALMON = '#E9967A', SKY = '#63B8FF';
const dOpts = { labels: groupsD, colors: [RED, BLUE], ptR: 3, xFont: 27, xLH: 0.9, xPad: 10, yFont: 18 };
boxPanel({ l: 128, t: 1481, r: 335, b: 1846 }, 45, 74, Object.assign({}, dOpts, {
  stats: boxGSE18864, points: [ptsGSE18864_no, ptsGSE18864_pcr], yr: [3.841, 4.2], yMaj: [3.9, 4.0, 4.1], yMin: [3.85, 3.95, 4.05, 4.15], yDig: 1 }));
boxPanel({ l: 362, t: 1481, r: 586, b: 1846 }, 40, 74, Object.assign({}, dOpts, {
  stats: boxGSE20194, points: [ptsGSE20194_no, ptsGSE20194_pcr], yr: [4.953, 8.327], yMaj: [5, 6, 7, 8], yMin: [5.5, 6.5, 7.5], yDig: 0 }));
boxPanel({ l: 610, t: 1481, r: 834, b: 1846 }, 40, 74, Object.assign({}, dOpts, {
  stats: boxGSE25066, points: [ptsGSE25066_no, ptsGSE25066_pcr], yr: [5.244, 8.331], yMaj: [6, 7, 8], yMin: [5.5, 6.5, 7.5], yDig: 0 }));

T('D', 12, 1405, 38, 'l', { bold: true });
T('Normalized <i>ZBTB7A</i> expression', 72, 1640, 26, 'c', { rot: true });
T('GSE18864 -TNBC only', 231, 1458, 20, 'c');
T('Wilcoxon, p = 0.049', 234, 1483, 20, 'c');
T('GSE20194 - TNBC only', 474, 1458, 20, 'c');
T('Wilcoxon, p = 0.011', 474, 1483, 20, 'c');
T('GSE25066 -TNBC only', 722, 1458, 20, 'c');
T('Wilcoxon, p = 0.0055', 722, 1485, 20, 'c');

const eOpts = { labels: groupsE, colors: [RED, BLUE, SALMON, SKY], ptR: 2.8, xFont: 19, xLH: 1.0, xPad: 4, yFont: 17, yDig: 0 };
boxPanel({ l: 957, t: 1438, r: 1153, b: 1771 }, 30, 50, Object.assign({}, eOpts, {
  stats: boxE_25066_A, points: ptsE_25066_A, brackets: bracketsE_25066_A, yr: [5.227, 8.83], yMaj: [6, 7, 8], yMin: [5.5, 6.5, 7.5, 8.5] }));
boxPanel({ l: 1184, t: 1438, r: 1381, b: 1771 }, 30, 50, Object.assign({}, eOpts, {
  stats: boxE_25066_B, points: ptsE_25066_B, brackets: bracketsE_25066_B, yr: [5.227, 8.83], yMaj: [6, 7, 8], yMin: [5.5, 6.5, 7.5, 8.5] }));
boxPanel({ l: 1439, t: 1438, r: 1636, b: 1771 }, 30, 50, Object.assign({}, eOpts, {
  stats: boxE_20194_A, points: ptsE_20194_A, brackets: bracketsE_20194_A, yr: [4.93, 8.88], yMaj: [5, 6, 7, 8], yMin: [5.5, 6.5, 7.5, 8.5] }));
boxPanel({ l: 1666, t: 1438, r: 1862, b: 1771 }, 30, 50, Object.assign({}, eOpts, {
  stats: boxE_20194_B, points: ptsE_20194_B, brackets: bracketsE_20194_B, yr: [4.93, 8.88], yMaj: [5, 6, 7, 8], yMin: [5.5, 6.5, 7.5, 8.5] }));

T('E', 890, 1403, 38, 'l', { bold: true });
T('GSE25066', 1162, 1419, 17, 'c');
T('GSE20194', 1648, 1424, 17, 'c');
T('Normalized <i>ZBTB7A</i> expression', 915, 1627, 26, 'c', { rot: true });
T('Normalized <i>ZBTB7A</i> expression', 1403, 1617, 16.5, 'c', { rot: true });
// group underlines and labels
[[959, 1042, 1061, 1144, 1835, 1067, 'KDM5A'], [1194, 1278, 1296, 1380, 1831, 1299, 'KDM5B'],
 [1440, 1524, 1542, 1626, 1835, 1548, 'KDM5A'], [1675, 1759, 1777, 1861, 1831, 1781, 'KDM5B']].forEach(g => {
  box(g[0], 1822, g[1] - g[0], 2.5, 'background:#222;');
  box(g[2], 1822, g[3] - g[2], 2.5, 'background:#222;');
  T('High', g[0] + 43, g[4], 19, 'c');
  T('Low', g[2] + 51, g[4], 19, 'c');
  T('<i>' + g[6] + '</i>', g[5], 1858, 26, 'c');
});
</script>
</body></html>
